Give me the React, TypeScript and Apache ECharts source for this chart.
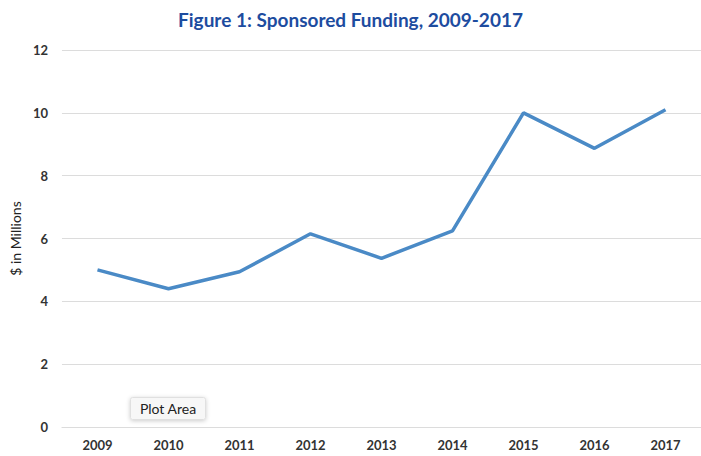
import React, { useEffect, useRef } from "react";
import * as echarts from "echarts";

const years = ["2009", "2010", "2011", "2012", "2013", "2014", "2015", "2016", "2017"];
const funding = [5.0, 4.4, 4.94, 6.15, 5.37, 6.24, 10.0, 8.87, 10.1];
const titleText = "Figure 1: Sponsored Funding, 2009-2017";
const yAxisName = "$ in Millions";

export default function App() {
  const ref = useRef<HTMLDivElement>(null);
  useEffect(() => {
    document.body.style.margin = "0";
    const chart = echarts.init(ref.current!, null, { renderer: "svg" });
    chart.setOption({
      animation: false,
      backgroundColor: "#ffffff",
      title: {
        text: titleText,
        left: "center",
        top: 5,
        textStyle: { fontFamily: "Lato", fontWeight: "bold", fontSize: 19, color: "#1d4c9f" },
      },
      grid: { left: 60, top: 50, width: 645, bottom: 29 },
      xAxis: {
        type: "category",
        data: years,
        boundaryGap: true,
        axisLine: { show: true, lineStyle: { color: "#dcdcdc" } },
        axisTick: { show: false },
        axisLabel: { color: "#333", fontFamily: "Lato", fontWeight: "bold", fontSize: 13, margin: 11 },
      },
      yAxis: {
        type: "value",
        min: 0,
        max: 12,
        interval: 2,
        name: yAxisName,
        nameLocation: "middle",
        nameGap: 37,
        nameTextStyle: { color: "#222", fontFamily: "Lato", fontSize: 14 },
        axisLine: { show: false },
        axisTick: { show: false },
        axisLabel: { color: "#333", fontFamily: "Lato", fontWeight: "bold", fontSize: 13, margin: 14 },
        splitLine: { lineStyle: { color: "#dcdcdc" } },
      },
      series: [
        {
          type: "line",
          data: funding,
          showSymbol: false,
          symbol: "none",
          lineStyle: { color: "#4a8ac6", width: 3.5 },
        },
      ],
      graphic: [
        {
          type: "group",
          left: 130,
          top: 397,
          children: [
            {
              type: "rect",
              shape: { x: 0, y: 0, width: 75, height: 22, r: 2 },
              style: {
                fill: "#f7f7f7",
                stroke: "#e0e0e0",
                lineWidth: 1,
                shadowBlur: 4,
                shadowColor: "rgba(0,0,0,0.2)",
                shadowOffsetY: 1,
              },
            },
            {
              type: "text",
              x: 37.5,
              y: 11,
              style: {
                text: "Plot Area",
                fill: "#222",
                font: "14px Lato",
                textAlign: "center",
                textVerticalAlign: "middle",
              },
            },
          ],
        },
      ],
    });
    return () => chart.dispose();
  }, []);
  return <div ref={ref} style={{ width: 701, height: 456 }} />;
}
